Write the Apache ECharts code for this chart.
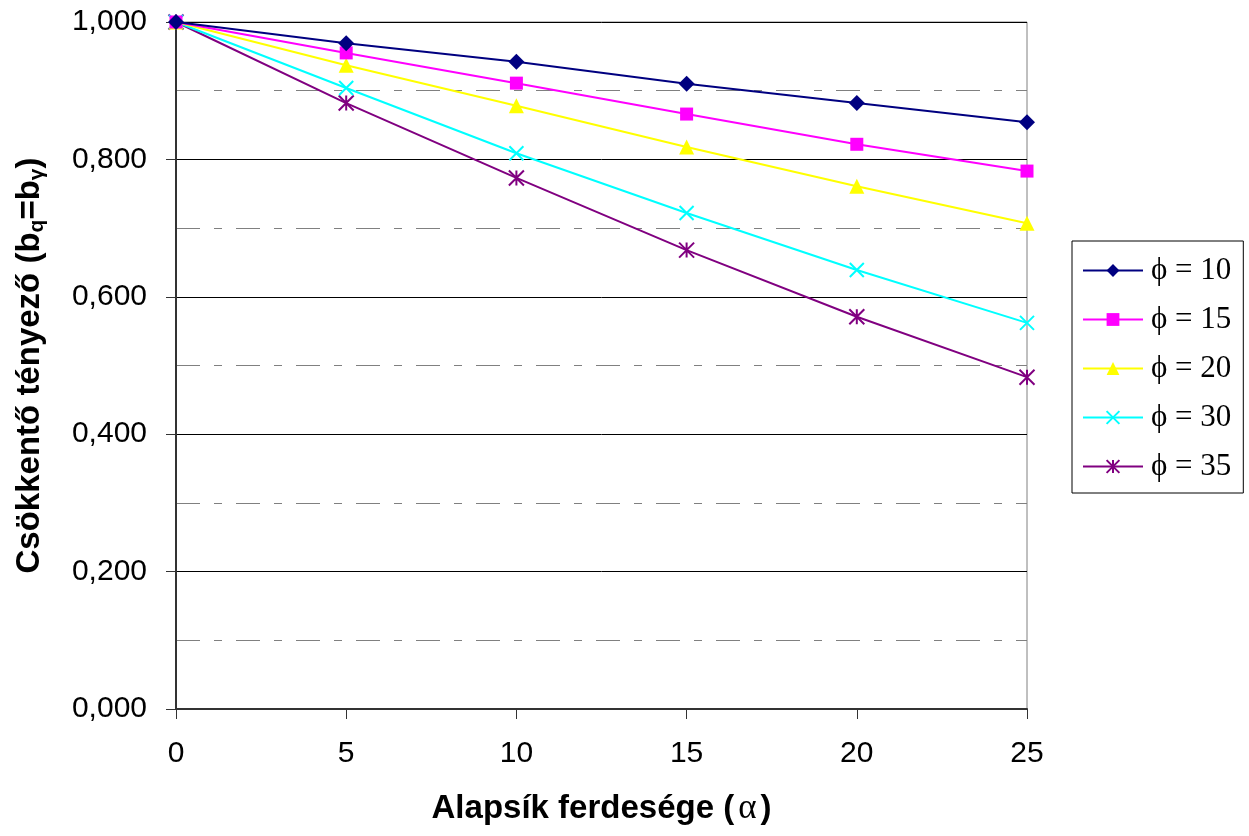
<!DOCTYPE html>
<html>
<head>
<meta charset="utf-8">
<script src="https://cdn.jsdelivr.net/npm/echarts@6/dist/echarts.min.js"></script>
<style>html,body{margin:0;padding:0;background:#fff}#c{width:1249px;height:836px}</style>
</head>
<body>
<div id="c"></div>
<script>
var xValues = [0, 5, 10, 15, 20, 25];
var seriesNames = ['ϕ = 10', 'ϕ = 15', 'ϕ = 20', 'ϕ = 30', 'ϕ = 35'];
var phi10 = [1.000, 0.969, 0.942, 0.910, 0.882, 0.854];
var phi15 = [1.000, 0.955, 0.911, 0.866, 0.822, 0.783];
var phi20 = [1.000, 0.937, 0.878, 0.818, 0.761, 0.707];
var phi30 = [1.000, 0.904, 0.809, 0.722, 0.639, 0.562];
var phi35 = [1.000, 0.882, 0.773, 0.668, 0.571, 0.483];
var yTickLabels = ['0,000', '0,200', '0,400', '0,600', '0,800', '1,000'];

var allData = [phi10, phi15, phi20, phi30, phi35];
var colors = ['#000080', '#FF00FF', '#FFFF00', '#00FFFF', '#800080'];
var symbols = ['diamond', 'rect', 'triangle',
  'path://M0,0 L10,10 M10,0 L0,10',
  'path://M5,0 L5,10 M0,0 L10,10 M10,0 L0,10'];
var sizes = [16, 13, 15, 14, 15];

var series = allData.map(function (arr, i) {
  var stroked = i >= 3;
  return {
    name: seriesNames[i],
    type: 'line',
    data: xValues.map(function (x, j) { return [x, arr[j]]; }),
    symbol: symbols[i],
    symbolSize: sizes[i],
    showAllSymbol: true,
    lineStyle: { color: colors[i], width: 2 },
    itemStyle: stroked ? { color: 'rgba(0,0,0,0)', borderColor: colors[i], borderWidth: 2 } : { color: colors[i], borderWidth: 0 },
    emphasis: { disabled: true },
    animation: false,
    z: 10 - i
  };
});

var chart = echarts.init(document.getElementById('c'), null, { renderer: 'canvas' });
chart.setOption({
  backgroundColor: '#fff',
  animation: false,
  grid: { left: 176, right: 222, top: 22, bottom: 127, show: true, borderColor: '#808080', borderWidth: 1, backgroundColor: 'transparent' },
  legend: {
    orient: 'vertical',
    left: 1072, top: 241,
    padding: [14, 12, 11, 10],
    itemGap: 18,
    itemWidth: 60, itemHeight: 16,
    borderColor: '#000', borderWidth: 1,
    textStyle: { fontFamily: 'Liberation Serif', fontSize: 31, lineHeight: 30, color: '#000', padding: [0, 0, 0, 3] },
    data: seriesNames
  },
  xAxis: {
    type: 'value', min: 0, max: 25, interval: 5,
    name: '{b|Alapsík ferdesége (}{a|α}{b|)}',
    nameLocation: 'middle', nameGap: 82,
    nameTextStyle: {
      rich: {
        b: { fontFamily: 'Liberation Sans', fontSize: 33, fontWeight: 'bold', color: '#000' },
        a: { fontFamily: 'Liberation Serif', fontSize: 35, color: '#000', padding: [0, 4, 0, 4] }
      }
    },
    axisLine: { show: true, onZero: false, lineStyle: { color: '#333', width: 2 } },
    axisTick: { show: true, length: 10, lineStyle: { color: '#333', width: 1 } },
    axisLabel: { margin: 30, fontFamily: 'Liberation Sans', fontSize: 30, color: '#000' },
    splitLine: { show: false }
  },
  yAxis: {
    type: 'value', min: 0, max: 1, interval: 0.2,
    name: '{b|Csökkentő tényező (b}{s|q}{b|=b}{s|γ}{b|)}',
    nameLocation: 'middle', nameGap: 128, nameRotate: 90,
    nameTextStyle: {
      rich: {
        b: { fontFamily: 'Liberation Sans', fontSize: 33, fontWeight: 'bold', color: '#000' },
        s: { fontFamily: 'Liberation Sans', fontSize: 21, fontWeight: 'bold', color: '#000', verticalAlign: 'bottom', padding: [15, 0, 0, 0] }
      }
    },
    axisLine: { show: true, lineStyle: { color: '#333', width: 2 } },
    axisTick: { show: true, length: 10, lineStyle: { color: '#333', width: 1 } },
    axisLabel: {
      margin: 29, fontFamily: 'Liberation Sans', fontSize: 30, color: '#000',
      formatter: function (v) { return yTickLabels[Math.round(v / 0.2)]; }
    },
    splitLine: { show: true, lineStyle: { color: '#000', width: 1 } },
    minorTick: { show: false, splitNumber: 2 },
    minorSplitLine: { show: true, lineStyle: { color: '#808080', width: 1, type: [24, 14, 8, 14] } }
  },
  series: series
});
</script>
</body>
</html>
